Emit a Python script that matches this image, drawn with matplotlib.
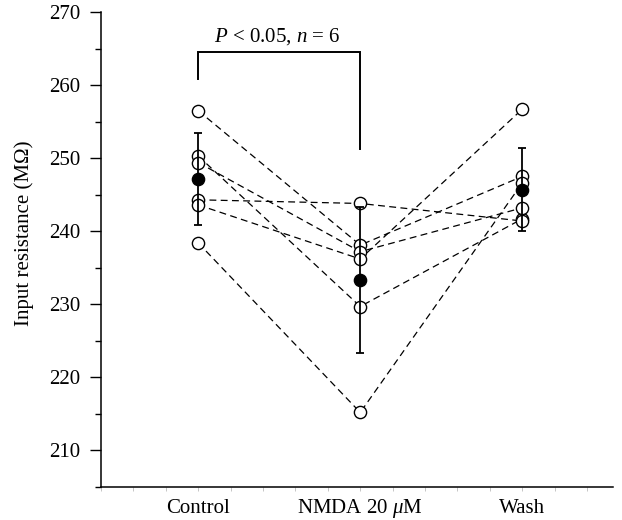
import matplotlib
matplotlib.use("Agg")
import matplotlib.pyplot as plt
import numpy as np
from matplotlib.ticker import MultipleLocator

plt.rcParams['font.family'] = ['Liberation Serif', 'DejaVu Serif']
plt.rcParams['mathtext.fontset'] = 'custom'
plt.rcParams['mathtext.rm'] = 'Liberation Serif'
plt.rcParams['mathtext.it'] = 'Liberation Serif:italic'

categories = ["Control", "NMDA 20 $\\mu$M", "Wash"]
# individual cells (Control, NMDA, Wash)
cell_control = [256.5, 250.3, 249.4, 244.3, 243.6, 238.4]
cell_nmda = [238.1, 229.7, 237.2, 243.8, 236.2, 215.2]
cell_wash = [247.5, 241.7, 243.2, 241.4, 256.7, 246.6]
means = [247.1, 233.3, 245.7]
errs = [6.3, 10.0, 5.7]

FS = 15

fig = plt.figure(figsize=(6.22, 5.2), dpi=100)
ax = fig.add_axes([101/622, 1-487/520, (613-101)/622, (487-12)/520])

x = np.arange(len(categories))
for c, n, w in zip(cell_control, cell_nmda, cell_wash):
    ax.plot(x, [c, n, w], linestyle=(0, (5.5, 3.5)), color='black', lw=0.9,
            marker='o', markersize=8.8, markerfacecolor='white',
            markeredgecolor='black', markeredgewidth=1.0, zorder=2)

ax.errorbar(x, means, yerr=errs, fmt='none', ecolor='black', elinewidth=1.3,
            capsize=3, capthick=1.3, zorder=3)
ax.plot(x, means, 'o', color='black', markersize=8.8, zorder=4)

# significance bracket
ax.plot([0, 0, 1, 1], [260.8, 264.5, 264.5, 251.2], color='black', lw=1.4,
        solid_joinstyle='miter', zorder=2)
ax.text(0.49, 266.7, "$P$ < 0.05, $n$ = 6", ha='center', va='center', fontsize=FS)

ax.set_ylim(205, 270)
ax.set_xlim(-0.6, 2.56)
ax.set_yticks(np.arange(210, 271, 10))
ax.yaxis.set_minor_locator(MultipleLocator(5))
ax.tick_params(axis='y', which='major', direction='out', length=8, width=1,
               labelsize=FS, pad=7)
ax.tick_params(axis='y', which='minor', direction='out', length=4, width=1)
ax.set_xticks(x)
ax.set_xticklabels([])
for xi, lab in zip(x, categories):
    ax.text(xi, 201.4, lab, ha='center', va='baseline', fontsize=FS, clip_on=False)
ax.xaxis.set_minor_locator(MultipleLocator(0.2))
ax.tick_params(axis='x', which='both', direction='out', length=3, width=0.6,
               color='#bbbbbb')
fig.text(24/622, 1-233/520, "Input resistance (MΩ)", rotation=90,
         ha='center', va='center', fontsize=FS)

for s in ['top', 'right']:
    ax.spines[s].set_visible(False)
for s in ['left', 'bottom']:
    ax.spines[s].set_linewidth(1.1)

fig.savefig("out.png", dpi=100)
